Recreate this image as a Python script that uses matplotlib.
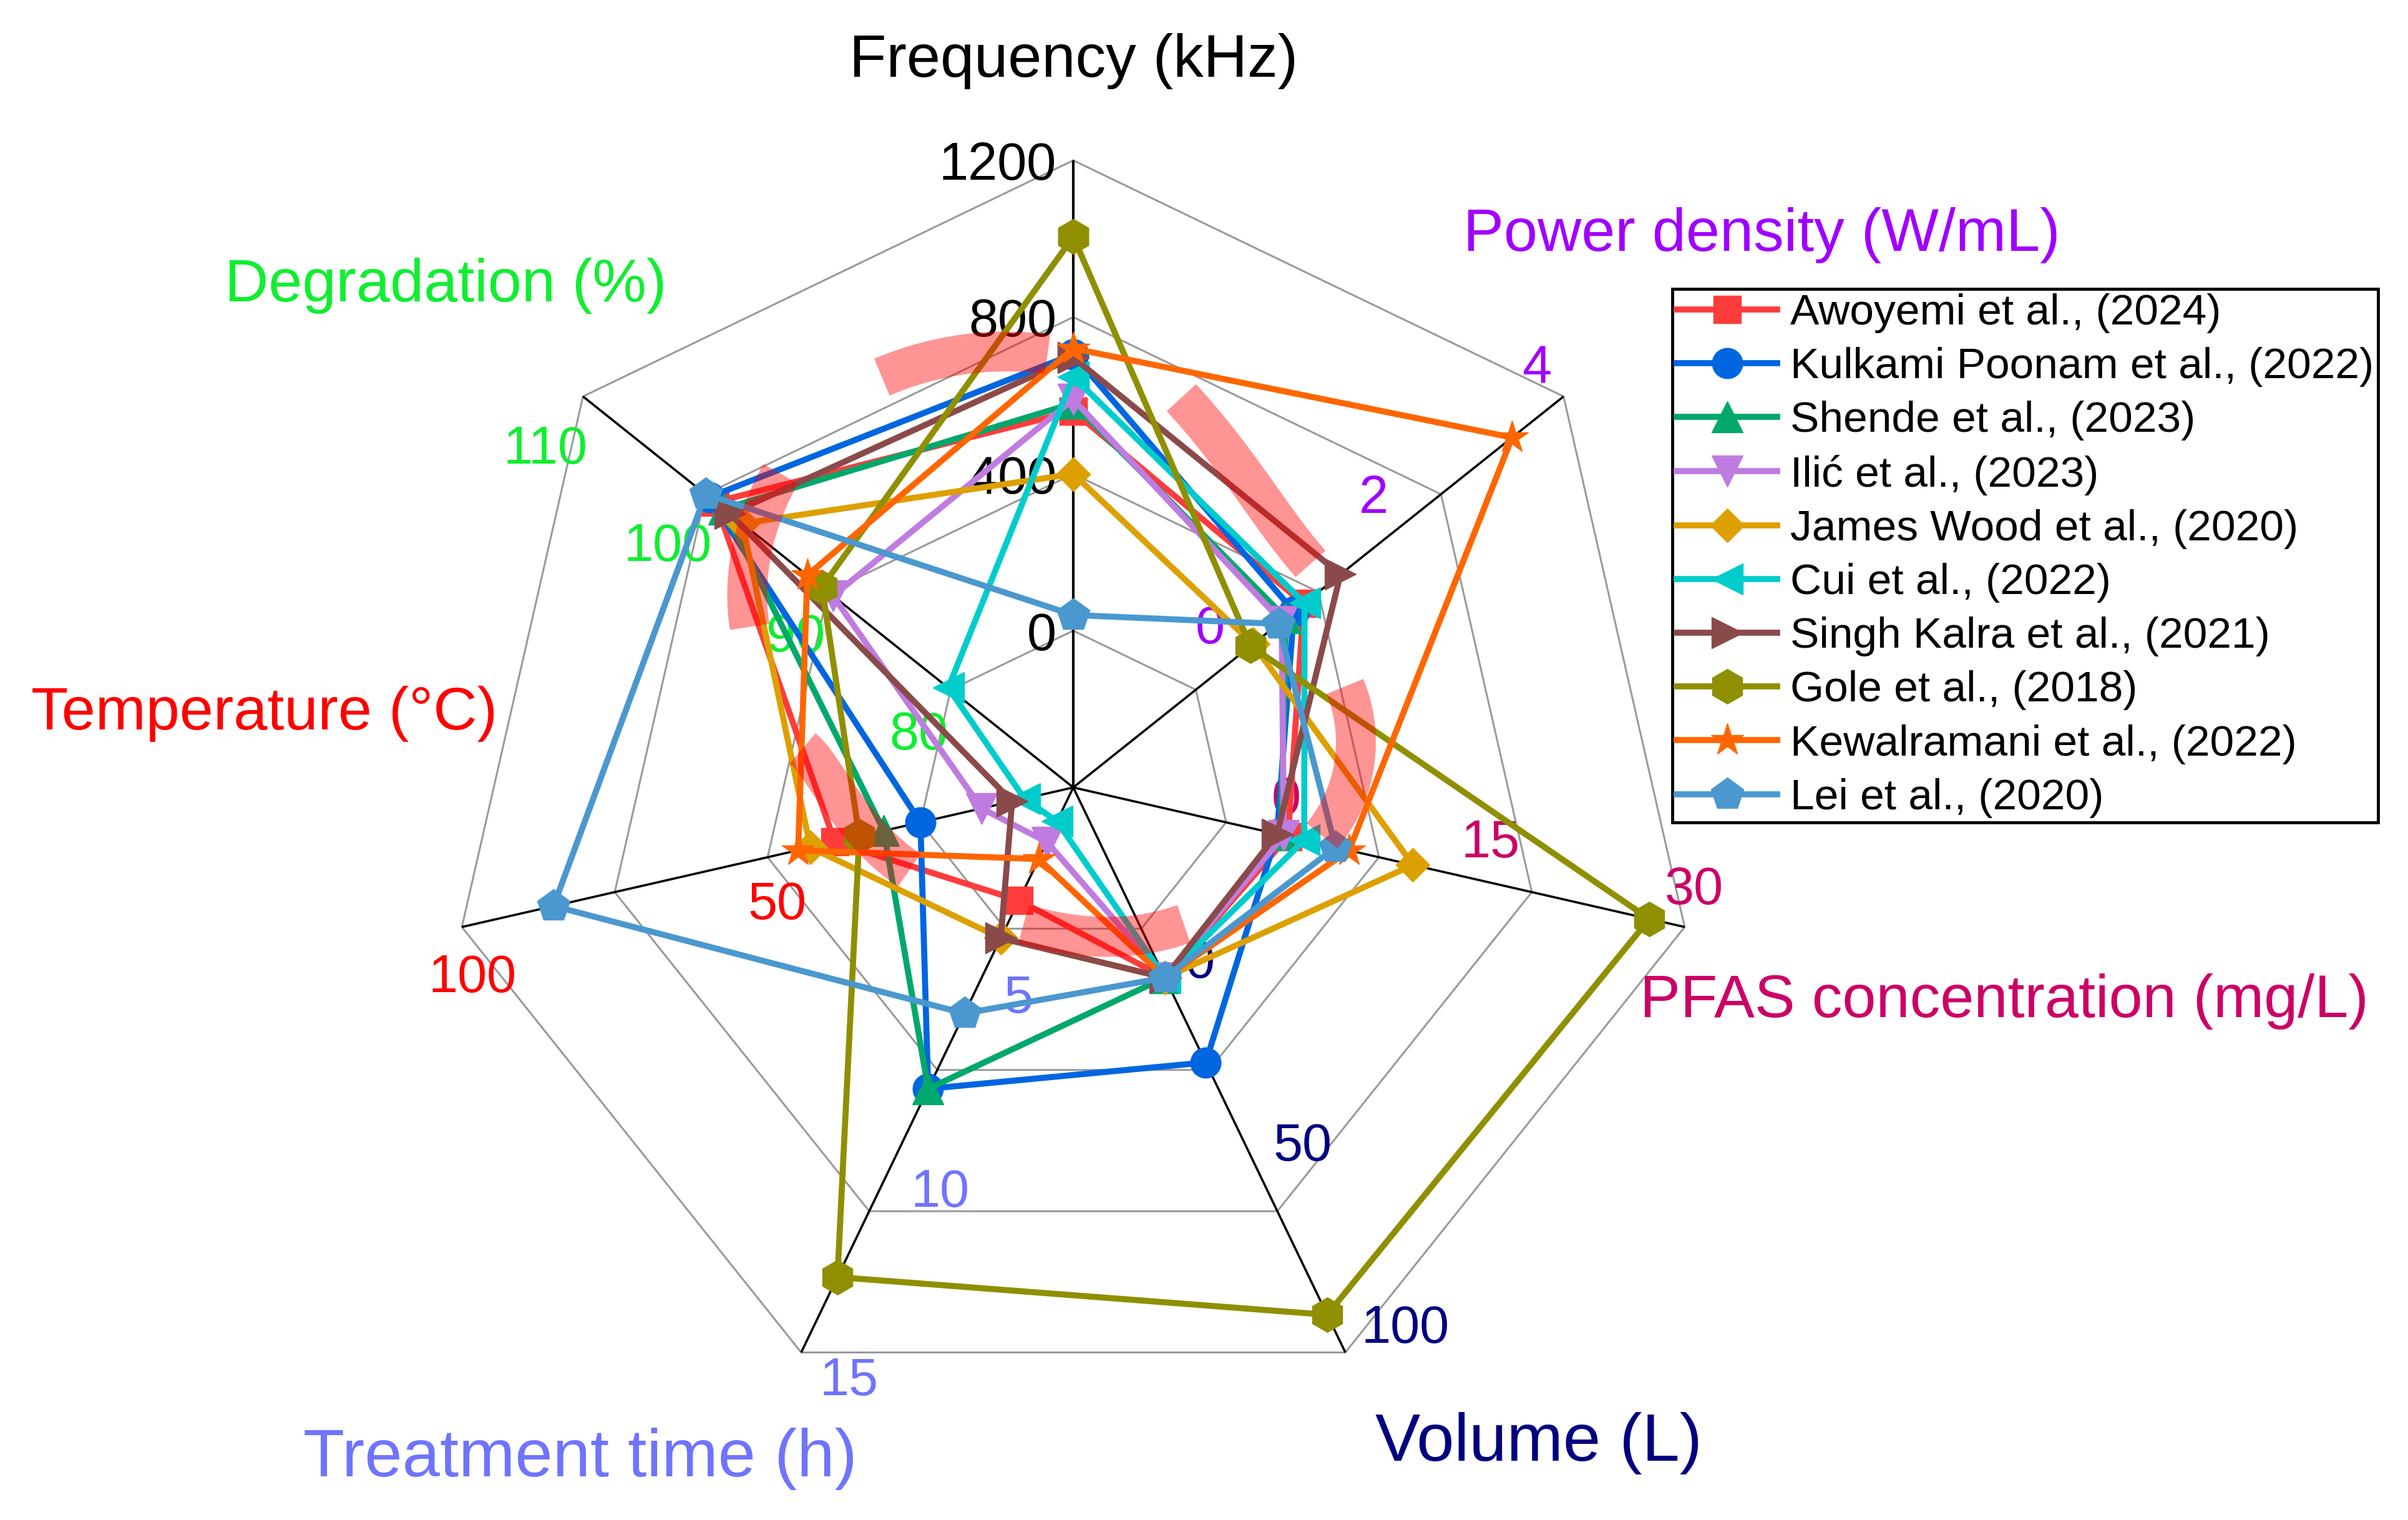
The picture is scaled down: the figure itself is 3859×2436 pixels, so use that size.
import numpy as np
import matplotlib
matplotlib.use('Agg')
import matplotlib.pyplot as plt

plt.rcParams['font.family'] = ['Liberation Sans', 'DejaVu Sans']

# ---------------- axes of the radar ----------------
axis_titles = ['Frequency (kHz)', 'Power density (W/mL)', 'PFAS concentration (mg/L)',
               'Volume (L)', 'Treatment time (h)', 'Temperature (\u00b0C)', 'Degradation (%)']
axis_min = [-400, -2, -15, -50, 0, 0, 70]
axis_max = [1200, 4, 30, 100, 15, 100, 110]
axis_ticks = [[0, 400, 800, 1200], [0, 2, 4], [0, 15, 30], [0, 50, 100],
              [5, 10, 15], [50, 100], [80, 90, 100, 110]]
axis_colors = ['#000000', '#A000FF', '#CC0066', '#000080', '#6F74FF', '#FF0000', '#10EE30']
title_sizes = [70, 70, 70, 78, 78, 70, 70]

# ---------------- studies ----------------
studies = ['Awoyemi et al., (2024)', 'Kulkami Poonam et al., (2022)', 'Shende et al., (2023)',
           'Ili\u0107 et al., (2023)', 'James Wood et al., (2020)', 'Cui et al., (2022)',
           'Singh Kalra et al., (2021)', 'Gole et al., (2018)', 'Kewalramani et al., (2022)',
           'Lei et al., (2020)']
frequency = [560, 705, 580, 590, 400, 648, 697, 1005, 720, 40]
power_density = [0.82, 0.7, 0.6, 0.55, 0.2, 0.83, 1.27, 0.17, 3.37, 0.51]
pfas_conc = [0.8, 0.0, 0.3, 0.5, 10.0, 2.0, 0.0, 27.4, 5.3, 4.3]
volume = [0.5, 23, 0.5, 0.5, 0.5, 0.5, 0.5, 90, 0.5, 0.5]
treatment_time = [3, 8, 8, 1.45, 4, 0.9, 4, 13, 1.9, 6]
temperature = [39, 25, 31, 15, 43, 8, 10, 35, 45, 85]
degradation = [99.2, 99.7, 98.5, 89.6, 97.0, 80.2, 98.0, 90.5, 91.7, 100.0]

series_colors = ['#FF3C3C', '#0066E0', '#00A86B', '#C07BE0', '#DDA000', '#00CCCC',
                 '#8B4A4A', '#8F8F00', '#FF6600', '#4A98CF']
series_markers = ['s', 'o', '^', 'v', 'D', '<', '>', 'h', '*', 'p']
marker_sizes = [31, 35, 36, 36, 28, 36, 36, 40, 39, 39]

# highlight bands: (compass angle deg, radius fraction) control points
bands = [
    [(-25, 0.722), (-14, 0.712), (-3.4, 0.692)],
    [(15.5, 0.645), (32, 0.553), (46.7, 0.52)],
    [(69.6, 0.462), (85, 0.45), (101, 0.404)],
    [(200, 0.232), (172, 0.24), (141, 0.28)],
    [(278.2, 0.436), (267.2, 0.372), (243.2, 0.293)],
    [(317, 0.684), (306, 0.635), (296.4, 0.576)],
]

W, H, DPI = 3859, 2436, 100
fig = plt.figure(figsize=(W / DPI, H / DPI), dpi=DPI)
cx, cy, R = 1720, 1262, 1005
ax = fig.add_axes([(cx - R) / W, (H - cy - R) / H, 2 * R / W, 2 * R / H], projection='polar')
ax.set_theta_zero_location('N')
ax.set_theta_direction(-1)
ax.set_ylim(0, 1)
ax.set_axis_off()

n = len(axis_titles)
theta = np.arange(n) * 2 * np.pi / n
theta_c = np.append(theta, theta[0])

# grid heptagons
for frac in [0.25, 0.5, 0.75, 1.0]:
    ax.plot(theta_c, [frac] * (n + 1), color='#9a9a9a', lw=2.2, zorder=1, clip_on=False)
# spokes
for k in range(n):
    ax.plot([theta[k], theta[k]], [0, 1], color='black', lw=3.0 if k == 0 else 2.6,
            zorder=2, clip_on=False, solid_capstyle='butt')

# tick labels
for k in range(n):
    a = np.pi / 2 - theta[k]
    perp = np.array([-np.sin(a), np.cos(a)])
    for t in axis_ticks[k]:
        r = (t - axis_min[k]) / (axis_max[k] - axis_min[k])
        s = str(t)
        if k == 0:
            ax.annotate(s, xy=(theta[k], r), xytext=(-27, 0), textcoords='offset pixels',
                        ha='right', va='center_baseline', fontsize=61, color=axis_colors[k],
                        zorder=3, annotation_clip=False)
        else:
            w = 47 * len(s)
            h = 60
            d = 30 + 0.5 * (abs(perp[0]) * w + abs(perp[1]) * h)
            ax.annotate(s, xy=(theta[k], r), xytext=(d * perp[0], d * perp[1]),
                        textcoords='offset pixels', ha='center', va='center_baseline',
                        fontsize=61, color=axis_colors[k], zorder=3, annotation_clip=False)

# series
data = np.array([frequency, power_density, pfas_conc, volume, treatment_time,
                 temperature, degradation], dtype=float)
mins = np.array(axis_min, dtype=float)[:, None]
maxs = np.array(axis_max, dtype=float)[:, None]
rnorm = (data - mins) / (maxs - mins)
for i, name in enumerate(studies):
    rr = np.append(rnorm[:, i], rnorm[0, i])
    ax.plot(theta_c, rr, color=series_colors[i], lw=7, marker=series_markers[i],
            ms=marker_sizes[i], mfc=series_colors[i], mec=series_colors[i], mew=1,
            label=name, zorder=5 + 0.1 * i, clip_on=False)

# highlight bands
for b in bands:
    ang = np.array([p[0] for p in b], dtype=float)
    rad = np.array([p[1] for p in b], dtype=float)
    tt = np.linspace(0, 1, 60)
    L0 = 2 * (tt - 0.5) * (tt - 1)
    L1 = -4 * tt * (tt - 1)
    L2 = 2 * tt * (tt - 0.5)
    aa = L0 * ang[0] + L1 * ang[1] + L2 * ang[2]
    rr = L0 * rad[0] + L1 * rad[1] + L2 * rad[2]
    ax.plot(np.deg2rad(aa), rr, color='red', alpha=0.42, lw=46, solid_capstyle='butt',
            zorder=20, clip_on=False)

# axis titles
title_pos = [(1720, 98), (2823, 377), (3212, 1605), (2466, 2313), (930, 2338),
             (423, 1144), (714, 458)]
for k in range(n):
    x, y = title_pos[k]
    fig.text(x / W, 1 - y / H, axis_titles[k], ha='center', va='center',
             fontsize=title_sizes[k], color=axis_colors[k])

leg = ax.legend(loc='upper left', bbox_to_anchor=(2680 / W, 1 - 463 / H),
                bbox_transform=fig.transFigure, fontsize=50, frameon=True, fancybox=False,
                edgecolor='black', borderpad=0.1, handlelength=2.32, handletextpad=0.3,
                labelspacing=0.32, borderaxespad=0, numpoints=1, framealpha=1)
leg.get_frame().set_linewidth(3.5)
leg.set_zorder(30)

fig.savefig('out.png', dpi=DPI)
